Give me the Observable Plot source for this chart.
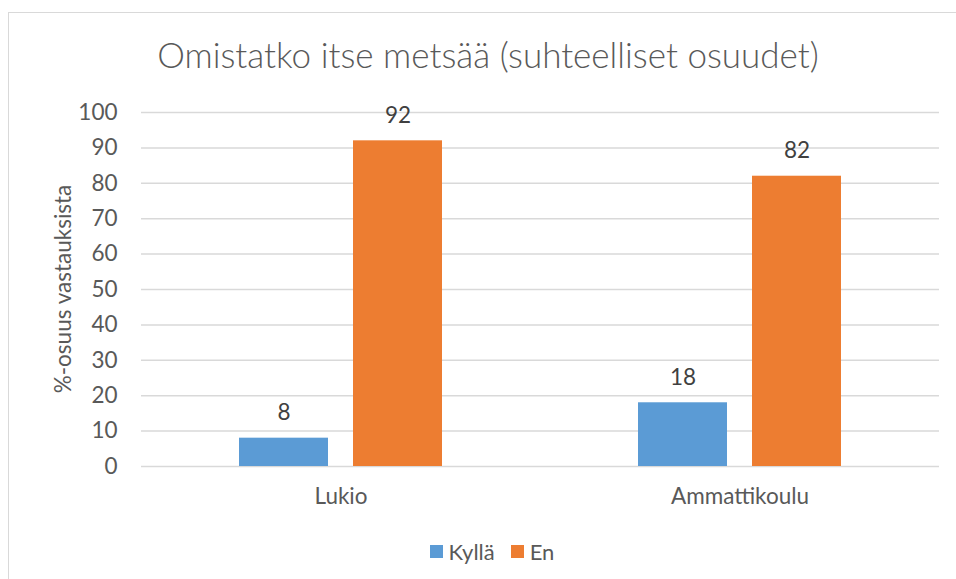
<!DOCTYPE html>
<html>
<head>
<meta charset="utf-8">
<script src="https://cdn.jsdelivr.net/npm/d3@7"></script>
<script src="https://cdn.jsdelivr.net/npm/@observablehq/plot@0.6"></script>
<style>
  html, body { margin: 0; padding: 0; background: #fff; }
  #wrap { position: relative; width: 956px; height: 579px; overflow: hidden; font-family: Lato, "Open Sans", sans-serif; color: #595959; }
  #frame { position: absolute; left: 8px; top: 12px; width: 980px; height: 600px; border: 1px solid #d9d9d9; box-sizing: border-box; }
  #title { position: absolute; left: 0; top: 37px; width: 976px; text-align: center; font-size: 35px; line-height: 35px; font-weight: 300; color: #595959; white-space: nowrap; }
  #chart { position: absolute; left: 0; top: 0; }
  #legend { position: absolute; left: 0; top: 536px; width: 984px; text-align: center; font-size: 22px; line-height: 28px; color: #595959; }
  #legend span.item { display: inline-flex; align-items: center; margin: 0 8px; }
  #legend span.sw { display: inline-block; width: 13px; height: 13px; margin-right: 6px; }
</style>
</head>
<body>
<div id="wrap">
  <div id="frame"></div>
  <div id="chart"></div>
  <div id="title"></div>
  <div id="legend"></div>
</div>
<script>
const titleText = "Omistatko itse metsää (suhteelliset osuudet)";
const yLabel = "%-osuus vastauksista";
const categories = ["Lukio", "Ammattikoulu"];
const series = ["Kyllä", "En"];
const kylla = [8, 18];
const en = [92, 82];
const yTicks = [0, 10, 20, 30, 40, 50, 60, 70, 80, 90, 100];
const colors = ["#5B9BD5", "#ED7D31"];

const data = categories.flatMap((c, i) => [
  {category: c, series: series[0], value: kylla[i]},
  {category: c, series: series[1], value: en[i]}
]);

const W = 956, H = 579, mL = 141, mR = 17, mT = 112, mB = 113;
const FS = 22.5;

const chart = Plot.plot({
  width: W, height: H,
  marginLeft: mL, marginRight: mR, marginTop: mT, marginBottom: mB,
  style: {fontFamily: "Lato, 'Open Sans', sans-serif", fontSize: FS + "px", color: "#595959", background: "transparent", overflow: "visible"},
  fx: {domain: categories, padding: 0, label: null, axis: null},
  x: {domain: series, paddingInner: 0.22, paddingOuter: 0.86, axis: null},
  y: {domain: [0, 100], label: null, axis: null},
  color: {domain: series, range: colors},
  marks: [
    Plot.gridY(yTicks, {stroke: "#d9d9d9", strokeOpacity: 1, strokeWidth: 1.5}),
    Plot.axisY(yTicks, {tickSize: 0, tickPadding: 24, label: null, fontSize: FS, fill: "#595959"}),
    Plot.axisFx({anchor: "bottom", tickSize: 0, tickPadding: 22, label: null, fontSize: FS, fill: "#595959"}),
    Plot.barY(data, {fx: "category", x: "series", y: "value", fill: "series"}),
    Plot.text(data, {fx: "category", x: "series", y: "value", text: d => String(d.value), dy: -25, fontSize: FS, fill: "#404040"})
  ]
});
document.getElementById("chart").appendChild(chart);

// y-axis label
d3.select(chart).append("text")
  .attr("transform", `translate(62, ${(mT + (H - mB)) / 2}) rotate(-90)`)
  .attr("text-anchor", "middle")
  .attr("dominant-baseline", "central")
  .attr("font-size", FS)
  .attr("fill", "#595959")
  .text(yLabel);

document.getElementById("title").textContent = titleText;

const legend = document.getElementById("legend");
series.forEach((s, i) => {
  const item = document.createElement("span");
  item.className = "item";
  const sw = document.createElement("span");
  sw.className = "sw";
  sw.style.background = colors[i];
  item.appendChild(sw);
  item.appendChild(document.createTextNode(s));
  legend.appendChild(item);
});
</script>
</body>
</html>
